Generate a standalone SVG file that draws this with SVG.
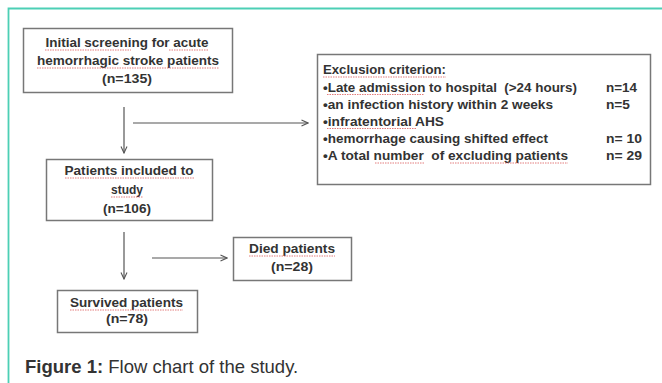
<svg xmlns="http://www.w3.org/2000/svg" width="662" height="383" viewBox="0 0 662 383">
<style>
.box{fill:#fff;stroke:#777;stroke-width:1.5}
.t{font-family:"Liberation Sans",Arial,sans-serif;font-weight:bold;font-size:13px;fill:#333}
.c{text-anchor:middle}
.ln{stroke:#555;stroke-width:1.2;fill:none}
.sq{stroke:#d95050;stroke-width:1;stroke-dasharray:1.5 1;opacity:0.75;fill:none}
.cap{font-family:"Liberation Sans",Arial,sans-serif;font-size:18.5px;fill:#333}
</style>
<defs>
<marker id="ah" viewBox="0 0 8 8" refX="7.5" refY="4" markerWidth="8" markerHeight="8" markerUnits="userSpaceOnUse" orient="auto">
<path d="M1,1 L7.5,4 L1,7" fill="none" stroke="#555" stroke-width="1.1"/>
</marker>
</defs>
<rect x="0" y="0" width="662" height="383" fill="#fff"/>
<path d="M8.5,383 V8.5 H662" fill="none" stroke="#4ccfb5" stroke-width="1.8"/>

<g id="connectors">
<line class="ln" x1="124" y1="107" x2="124" y2="153" marker-end="url(#ah)"/>
<line class="ln" x1="133" y1="123" x2="308" y2="123" marker-end="url(#ah)"/>
<line class="ln" x1="124" y1="232" x2="124" y2="279" marker-end="url(#ah)"/>
<line class="ln" x1="152" y1="258" x2="227" y2="258" marker-end="url(#ah)"/>
</g>

<g id="screening">
<rect class="box" x="23.5" y="28.5" width="209" height="64"/>
<text class="t c" x="127" y="47" textLength="163" lengthAdjust="spacingAndGlyphs">Initial screening for acute</text>
<text class="t c" x="128" y="65" textLength="182" lengthAdjust="spacingAndGlyphs">hemorrhagic stroke patients</text>
<text class="t c" x="127" y="83" textLength="50" lengthAdjust="spacingAndGlyphs">(n=135)</text>
<path class="sq" d="M45,50 H131 M169,50 H208 M37,68 H219"/>
</g>

<g id="exclusion">
<rect class="box" x="317.5" y="54.5" width="333" height="130"/>
<text class="t" x="323" y="74" textLength="123" lengthAdjust="spacingAndGlyphs">Exclusion criterion:</text>
<text class="t" x="323" y="91.5" textLength="254" lengthAdjust="spacingAndGlyphs" xml:space="preserve">•Late admission to hospital  (&gt;24 hours)</text>
<text class="t" x="606" y="91.5" textLength="31" lengthAdjust="spacingAndGlyphs">n=14</text>
<text class="t" x="323" y="108.5" textLength="230" lengthAdjust="spacingAndGlyphs">•an infection history within 2 weeks</text>
<text class="t" x="606" y="108.5" textLength="24" lengthAdjust="spacingAndGlyphs">n=5</text>
<text class="t" x="323" y="125.5" textLength="121" lengthAdjust="spacingAndGlyphs">•infratentorial AHS</text>
<text class="t" x="323" y="142.5" textLength="225" lengthAdjust="spacingAndGlyphs">•hemorrhage causing shifted effect</text>
<text class="t" x="606" y="142.5" textLength="36" lengthAdjust="spacingAndGlyphs">n= 10</text>
<text class="t" x="323" y="160" textLength="245" lengthAdjust="spacingAndGlyphs" xml:space="preserve">•A total number  of excluding patients</text>
<text class="t" x="606" y="160" textLength="36" lengthAdjust="spacingAndGlyphs">n= 29</text>
<path class="sq" d="M323,77 H446 M327,94.5 H424 M327,128.5 H416 M375,163 H425 M450,163 H568"/>
</g>

<g id="included">
<rect class="box" x="46.5" y="159.5" width="166" height="61"/>
<text class="t c" x="129" y="175" textLength="129" lengthAdjust="spacingAndGlyphs">Patients included to</text>
<text class="t c" x="127" y="194" textLength="32" lengthAdjust="spacingAndGlyphs">study</text>
<text class="t c" x="127" y="213" textLength="48" lengthAdjust="spacingAndGlyphs">(n=106)</text>
<path class="sq" d="M65,178 H194 M111,197 H143"/>
</g>

<g id="died">
<rect class="box" x="233.5" y="237.5" width="118" height="43"/>
<text class="t c" x="292" y="253" textLength="86" lengthAdjust="spacingAndGlyphs">Died patients</text>
<text class="t c" x="292" y="271" textLength="42" lengthAdjust="spacingAndGlyphs">(n=28)</text>
<path class="sq" d="M249,256 H335"/>
</g>

<g id="survived">
<rect class="box" x="57.5" y="290.5" width="140" height="42"/>
<text class="t c" x="126.5" y="307" textLength="113" lengthAdjust="spacingAndGlyphs">Survived patients</text>
<text class="t c" x="127" y="323" textLength="42" lengthAdjust="spacingAndGlyphs">(n=78)</text>
<path class="sq" d="M70,310 H183"/>
</g>

<text class="cap" x="25" y="372.5"><tspan font-weight="bold">Figure 1:</tspan> Flow chart of the study.</text>
</svg>
